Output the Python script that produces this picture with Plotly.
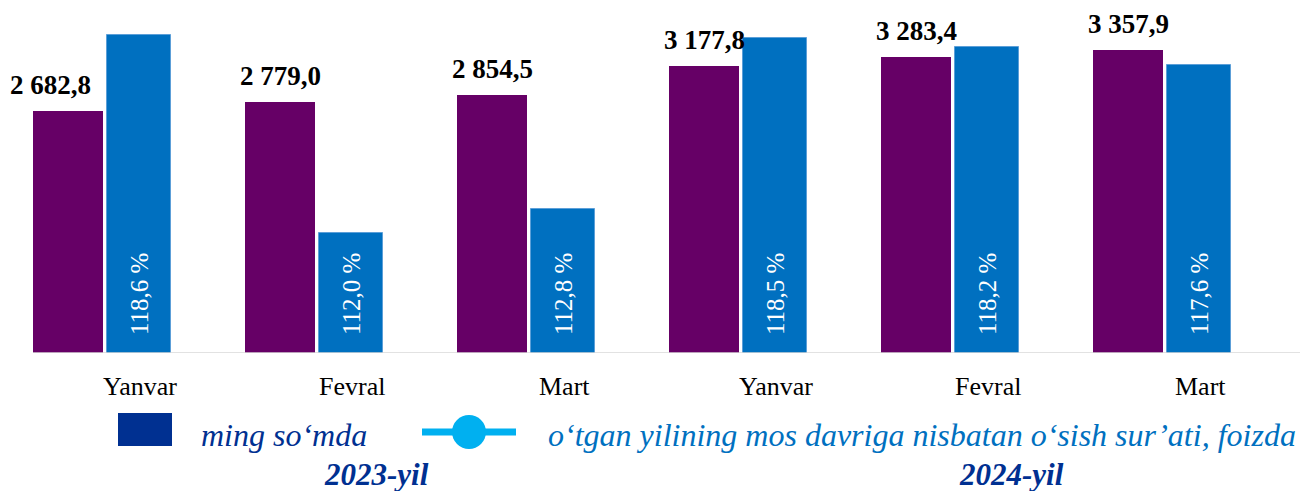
import plotly.graph_objects as go

# ---- data ----
categories = ["Yanvar", "Fevral", "Mart", "Yanvar", "Fevral", "Mart"]
years = ["2023-yil", "2024-yil"]
amount_th_sum = [2682.8, 2779.0, 2854.5, 3177.8, 3283.4, 3357.9]
growth_pct = [118.6, 112.0, 112.8, 118.5, 118.2, 117.6]
legend_names = ["ming so‘mda", "o‘tgan yilining mos davriga nisbatan o‘sish sur’ati, foizda"]

# ---- style ----
PURPLE = "#660066"
BLUE = "#0070C0"
NAVY = "#003091"
LIGHTBLUE = "#00B0F0"
SERIF = "Liberation Serif"

x = list(range(len(categories)))
unit = 212.0  # px per category at this layout
p_off, p_w = -72 / unit, 70 / unit
b_off, b_w = 2 / unit, 64 / unit


def fmt_amount(v):
    s = f"{v:,.1f}"
    return s.replace(",", " ").replace(".", ",")


def fmt_pct(v):
    return f"{v:.1f}".replace(".", ",") + " %"


fig = go.Figure()
fig.add_trace(go.Bar(
    x=x, y=amount_th_sum, offset=p_off, width=p_w,
    marker=dict(color=PURPLE, line=dict(width=0)),
    name=legend_names[0], showlegend=False, yaxis="y", hoverinfo="skip",
))
fig.add_trace(go.Bar(
    x=x, y=growth_pct, offset=b_off, width=b_w,
    marker=dict(color=BLUE, line=dict(width=1, color="#5C9FD8")),
    name=legend_names[1], showlegend=False, yaxis="y2", hoverinfo="skip",
))

annotations = []
for i, v in enumerate(amount_th_sum):
    annotations.append(dict(
        x=x[i] + p_off + p_w / 2, y=v, xref="x", yref="y",
        text=f"<b>{fmt_amount(v)}</b>", showarrow=False,
        yanchor="bottom", xanchor="center", yshift=9,
        xshift=-18 if growth_pct[i] > 118.55 else 0,
        font=dict(family=SERIF, size=27, color="black"),
    ))
for i, v in enumerate(growth_pct):
    annotations.append(dict(
        x=x[i] + b_off + b_w / 2, y=108, xref="x", yref="y2",
        text=fmt_pct(v), showarrow=False, textangle=-90,
        yanchor="bottom", xanchor="center", yshift=16,
        font=dict(family=SERIF, size=25, color="white"),
    ))
# category labels
for i, c in enumerate(categories):
    annotations.append(dict(
        x=x[i] + 35 / unit, y=0, xref="x", yref="y",
        text=c, showarrow=False, yanchor="middle", xanchor="center", yshift=-33,
        font=dict(family=SERIF, size=26, color="black"),
    ))
# legend texts
annotations.append(dict(x=199, y=435, xref="paper", yref="paper", text=f"<i>{legend_names[0]}</i>",
                        showarrow=False, xanchor="left", yanchor="middle",
                        font=dict(family=SERIF, size=32, color=NAVY)))
annotations.append(dict(x=546, y=435, xref="paper", yref="paper", text=f"<i>{legend_names[1]}</i>",
                        showarrow=False, xanchor="left", yanchor="middle",
                        font=dict(family=SERIF, size=32, color=BLUE)))
for xc, yr in zip([376, 1011], years):
    annotations.append(dict(x=xc, y=474, xref="paper", yref="paper", text=f"<b><i>{yr}</i></b>",
                            showarrow=False, xanchor="center", yanchor="middle",
                            font=dict(family=SERIF, size=31, color=NAVY)))

# convert pixel-based paper positions to paper fractions
W, H = 1300, 491
ML, MR, MT, MB = 0, 0, 20, 138
PW, PH = W - ML - MR, H - MT - MB
for a in annotations:
    if a["xref"] == "paper":
        a["x"] = (a["x"] - ML) / PW
        a["y"] = 1 - (a["y"] - MT) / PH


def px(xp):
    return (xp - ML) / PW


def py(yp):
    return 1 - (yp - MT) / PH


shapes = [
    # baseline
    dict(type="line", xref="x", yref="y", x0=x[0] + p_off, x1=x[-1] + 1, y0=0, y1=0,
         line=dict(color="#D9D9D9", width=1.5)),
    # legend swatch
    dict(type="rect", xref="paper", yref="paper", x0=px(118), x1=px(172), y0=py(413), y1=py(446),
         fillcolor=NAVY, line=dict(width=0)),
    dict(type="line", xref="paper", yref="paper", x0=px(422), x1=px(516), y0=py(432), y1=py(432),
         line=dict(color=LIGHTBLUE, width=7)),
    dict(type="circle", xref="paper", yref="paper", x0=px(452), x1=px(486), y0=py(449), y1=py(415),
         fillcolor=LIGHTBLUE, line=dict(width=0)),
]

fig.update_layout(
    width=W, height=H,
    margin=dict(l=ML, r=MR, t=MT, b=MB),
    paper_bgcolor="white", plot_bgcolor="white",
    barmode="overlay", bargap=0,
    font=dict(family=SERIF),
    xaxis=dict(range=[-105 / unit, (W - 105) / unit], showticklabels=False, showgrid=False,
               zeroline=False, showline=False, ticks=""),
    yaxis=dict(range=[0, 3690], visible=False, showgrid=False, zeroline=False),
    yaxis2=dict(range=[108, 119.1], visible=False, overlaying="y", showgrid=False, zeroline=False),
    annotations=annotations,
    shapes=shapes,
    showlegend=False,
)

fig.write_html("out.html", config={"displayModeBar": False},
               post_script="document.body.style.margin='0';document.body.style.overflow='hidden';")
